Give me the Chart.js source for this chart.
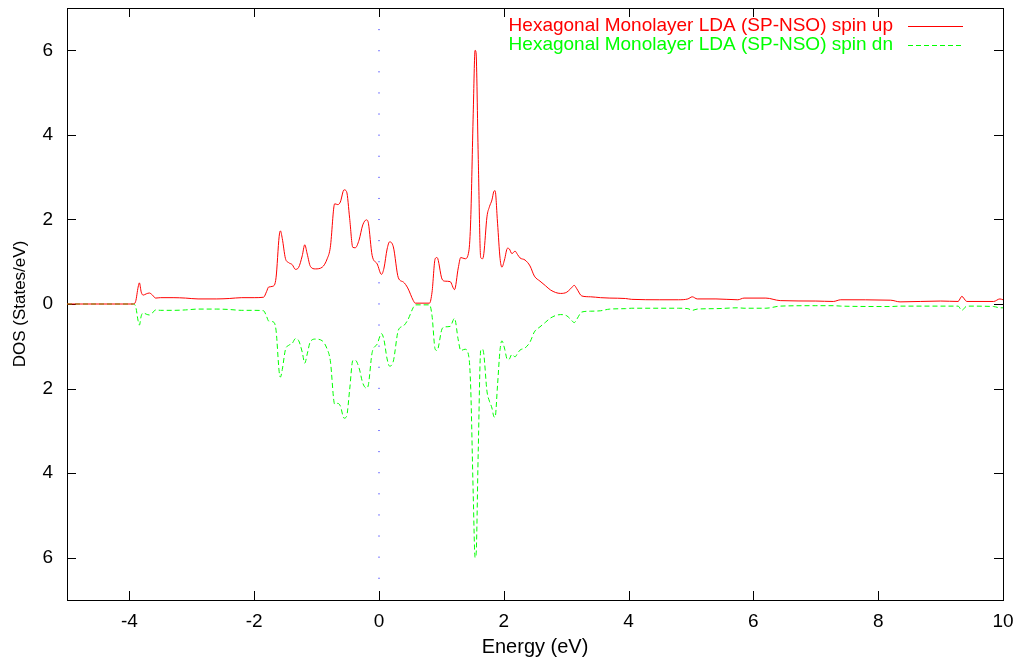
<!DOCTYPE html>
<html>
<head>
<meta charset="utf-8">
<script src="https://cdn.jsdelivr.net/npm/chart.js@4"></script>
<style>
  body { margin: 0; background: #fff; }
  #wrap { width: 1020px; height: 660px; }
</style>
</head>
<body>
<div id="wrap"><canvas id="myChart" width="1020" height="660"></canvas></div>
<script>
// energy grid (eV) shared by both spin channels
var energy = [-5.00, -3.94, -3.90, -3.86, -3.84, -3.81, -3.78, -3.73, -3.68, -3.63, -3.58, -3.50, -3.30, -3.10, -2.90, -2.60, -2.40, -2.20, -2.00, -1.85,
  -1.80, -1.77, -1.70, -1.65, -1.60, -1.58, -1.55, -1.50, -1.45, -1.39, -1.34, -1.29, -1.23, -1.19, -1.15, -1.10, -1.02, -0.91, -0.83, -0.78,
  -0.71, -0.66, -0.62, -0.56, -0.52, -0.47, -0.42, -0.38, -0.32, -0.26, -0.20, -0.17, -0.11, -0.03, 0.04, 0.08, 0.13, 0.17, 0.23, 0.31,
  0.39, 0.46, 0.55, 0.58, 0.81, 0.85, 0.90, 0.93, 1.01, 1.06, 1.14, 1.21, 1.27, 1.31, 1.38, 1.44, 1.47, 1.51, 1.54, 1.555,
  1.59, 1.63, 1.66, 1.68, 1.73, 1.77, 1.81, 1.84, 1.86, 1.90, 1.94, 1.97, 2.01, 2.06, 2.09, 2.13, 2.18, 2.22, 2.26, 2.34,
  2.42, 2.49, 2.58, 2.67, 2.75, 2.91, 3.01, 3.07, 3.13, 3.17, 3.25, 3.39, 3.55, 3.70, 3.95, 4.05, 4.50, 4.80, 4.95, 5.02,
  5.10, 5.40, 5.75, 5.85, 6.20, 6.43, 7.00, 7.28, 7.40, 8.20, 8.35, 9.00, 9.28, 9.34, 9.42, 9.85, 9.95, 10.00];

// DOS spin up (States/eV)
var spinUp = [0, 0, 0.06, 0.40, 0.50, 0.28, 0.21, 0.24, 0.26, 0.21, 0.14, 0.15, 0.15, 0.14, 0.12, 0.12, 0.13, 0.15, 0.15, 0.16,
  0.30, 0.40, 0.42, 0.62, 1.60, 1.73, 1.55, 1.08, 0.98, 0.93, 0.82, 0.86, 1.14, 1.40, 1.18, 0.89, 0.83, 0.87, 1.07, 1.34,
  2.37, 2.35, 2.41, 2.70, 2.66, 2.02, 1.34, 1.33, 1.51, 1.87, 1.99, 1.91, 1.15, 0.95, 0.70, 0.85, 1.30, 1.47, 1.35, 0.62,
  0.52, 0.38, 0.08, 0.02, 0.02, 0.28, 1.07, 1.10, 0.59, 0.54, 0.53, 0.34, 0.85, 1.10, 1.07, 1.25, 2.00, 4.50, 6.00, 5.95,
  3.50, 1.10, 1.07, 1.19, 2.06, 2.30, 2.46, 2.66, 2.68, 1.91, 1.08, 0.87, 1.04, 1.32, 1.30, 1.19, 1.25, 1.17, 1.09, 1.04,
  0.90, 0.66, 0.54, 0.43, 0.33, 0.25, 0.28, 0.36, 0.44, 0.36, 0.19, 0.17, 0.15, 0.14, 0.13, 0.11, 0.10, 0.10, 0.12, 0.17,
  0.12, 0.12, 0.10, 0.14, 0.14, 0.08, 0.07, 0.06, 0.10, 0.09, 0.05, 0.07, 0.06, 0.18, 0.06, 0.06, 0.12, 0.10];

// DOS spin down, plotted negative
var spinDn = [0, 0, -0.06, -0.40, -0.50, -0.28, -0.21, -0.24, -0.26, -0.21, -0.14, -0.15, -0.15, -0.14, -0.12, -0.12, -0.13, -0.15, -0.15, -0.16,
  -0.30, -0.40, -0.42, -0.62, -1.60, -1.73, -1.55, -1.08, -0.98, -0.93, -0.82, -0.86, -1.14, -1.40, -1.18, -0.89, -0.83, -0.87, -1.07, -1.34,
  -2.37, -2.35, -2.41, -2.70, -2.66, -2.02, -1.34, -1.33, -1.51, -1.87, -1.99, -1.91, -1.15, -0.95, -0.70, -0.85, -1.30, -1.47, -1.35, -0.62,
  -0.52, -0.38, -0.08, -0.02, -0.02, -0.28, -1.07, -1.10, -0.59, -0.54, -0.53, -0.34, -0.85, -1.10, -1.07, -1.25, -2.00, -4.50, -6.00, -5.95,
  -3.50, -1.10, -1.07, -1.19, -2.06, -2.30, -2.46, -2.66, -2.68, -1.91, -1.08, -0.87, -1.04, -1.32, -1.30, -1.19, -1.25, -1.17, -1.09, -1.04,
  -0.90, -0.66, -0.54, -0.43, -0.33, -0.25, -0.28, -0.36, -0.44, -0.36, -0.19, -0.17, -0.16, -0.12, -0.11, -0.10, -0.10, -0.10, -0.11, -0.15,
  -0.12, -0.11, -0.09, -0.10, -0.10, -0.05, -0.04, -0.04, -0.05, -0.06, -0.05, -0.05, -0.05, -0.15, -0.05, -0.06, -0.09, -0.09];

// Fermi level marker
var fermiX = [0, 0];
var fermiY = [6.5, -6.5];

var xTickValues = [-4, -2, 0, 2, 4, 6, 8, 10];
var yTickValues = [-6, -4, -2, 0, 2, 4, 6];
var yTickLabels = ['6', '4', '2', '0', '2', '4', '6'];

var legendLabels = ['Hexagonal Monolayer LDA (SP-NSO) spin up', 'Hexagonal Monolayer LDA (SP-NSO) spin dn'];

function pts(xs, ys) {
  return xs.map(function (x, i) { return { x: x, y: ys[i] }; });
}

Chart.defaults.font.family = '"Liberation Sans", Arial, sans-serif';
Chart.defaults.font.size = 19;
Chart.defaults.color = '#000';

// gnuplot-like frame with inward ticks on all four sides, plus the key
var framePlugin = {
  id: 'frame',
  beforeDatasetsDraw: function (chart) {
    var c = chart.ctx, a = chart.chartArea;
    var xs = chart.scales.x, ys = chart.scales.y, tl = 9;
    c.save();
    c.strokeStyle = '#000';
    c.lineWidth = 1;
    c.beginPath();
    xTickValues.forEach(function (v) {
      var px = Math.round(xs.getPixelForValue(v)) + 0.5;
      c.moveTo(px, a.bottom); c.lineTo(px, a.bottom - tl);
      c.moveTo(px, a.top); c.lineTo(px, a.top + tl);
    });
    yTickValues.forEach(function (v) {
      var py = Math.round(ys.getPixelForValue(v)) + 0.5;
      c.moveTo(a.left, py); c.lineTo(a.left + tl, py);
      c.moveTo(a.right, py); c.lineTo(a.right - tl, py);
    });
    c.stroke();
    c.strokeRect(Math.round(a.left) + 0.5, Math.round(a.top) + 0.5, Math.round(a.right - a.left), Math.round(a.bottom - a.top));
    c.restore();
  },
  afterDatasetsDraw: function (chart) {
    var c = chart.ctx;
    var colors = ['#ff0000', '#00ff00'];
    var dashes = [[], [5, 3]];
    var rows = [26, 45];
    c.save();
    c.font = '19px "Liberation Sans", Arial, sans-serif';
    c.textAlign = 'right';
    c.textBaseline = 'middle';
    for (var i = 0; i < 2; i++) {
      c.fillStyle = colors[i];
      c.fillText(legendLabels[i], 893, rows[i]);
      c.strokeStyle = colors[i];
      c.lineWidth = 1;
      c.setLineDash(dashes[i]);
      c.beginPath();
      c.moveTo(908, rows[i] + 0.5);
      c.lineTo(963, rows[i] + 0.5);
      c.stroke();
    }
    c.restore();
  }
};

var ctx = document.getElementById('myChart').getContext('2d');
var myChart = new Chart(ctx, {
  type: 'line',
  data: {
    datasets: [{
      label: legendLabels[0],
      data: pts(energy, spinUp),
      borderColor: '#ff0000',
      borderWidth: 1,
      pointRadius: 0,
      cubicInterpolationMode: 'monotone'
    }, {
      label: legendLabels[1],
      data: pts(energy, spinDn),
      borderColor: '#00ff00',
      borderWidth: 1,
      borderDash: [5, 3],
      pointRadius: 0,
      cubicInterpolationMode: 'monotone'
    }, {
      label: 'Ef',
      data: pts(fermiX, fermiY),
      borderColor: '#0000ff',
      borderWidth: 1,
      borderDash: [1, 20.1],
      pointRadius: 0
    }]
  },
  options: {
    responsive: false,
    animation: false,
    layout: { padding: { top: 8, right: 17, left: 0, bottom: 0 } },
    plugins: { legend: { display: false }, tooltip: { enabled: false } },
    scales: {
      x: {
        type: 'linear',
        min: -5,
        max: 10,
        grid: { display: false, drawTicks: false },
        border: { display: false },
        afterBuildTicks: function (s) { s.ticks = xTickValues.map(function (v) { return { value: v }; }); },
        afterFit: function (s) { s.height = 60; s.paddingLeft = 0; s.paddingRight = 0; },
        ticks: { padding: 10, autoSkip: false, maxRotation: 0 },
        title: { display: true, text: 'Energy (eV)', font: { size: 20 }, padding: { top: 0, bottom: 1 } }
      },
      y: {
        min: -7,
        max: 7,
        grid: { display: false, drawTicks: false },
        border: { display: false },
        afterBuildTicks: function (s) { s.ticks = yTickValues.map(function (v) { return { value: v }; }); },
        afterFit: function (s) { s.width = 67; s.paddingTop = 0; s.paddingBottom = 0; },
        ticks: {
          padding: 14,
          autoSkip: false,
          callback: function (v) { return yTickLabels[yTickValues.indexOf(v)]; }
        },
        title: { display: true, text: 'DOS (States/eV)', font: { size: 17 }, padding: { top: 10, bottom: 0 } }
      }
    }
  },
  plugins: [framePlugin]
});
</script>
</body>
</html>
